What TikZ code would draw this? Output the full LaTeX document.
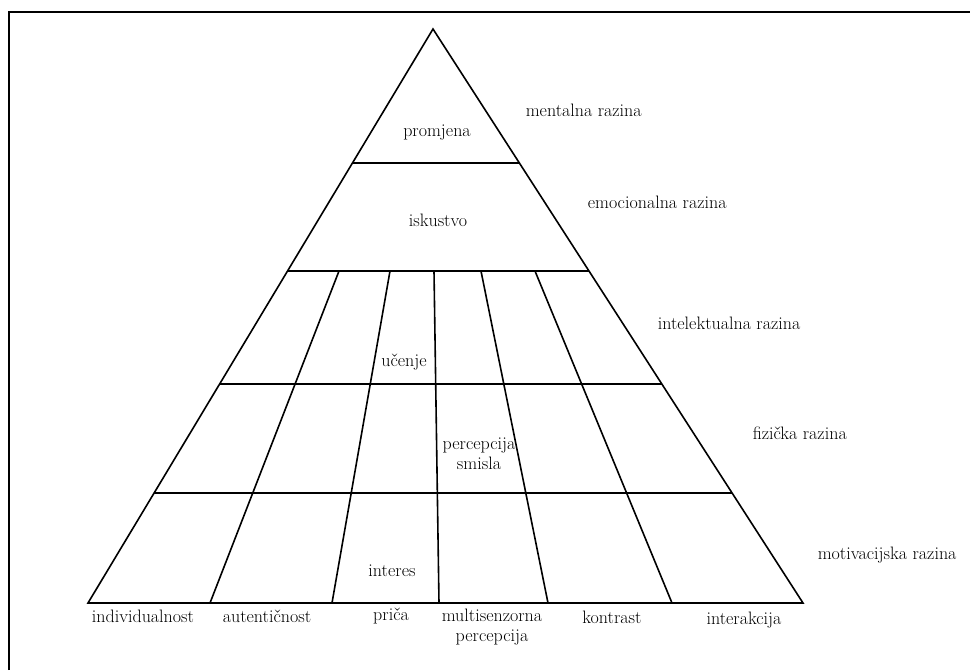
\documentclass[tikz,border=0pt]{standalone}
\usepackage{tikz}
\usetikzlibrary{calc}

\begin{document}
\begin{tikzpicture}[x=1pt, y=-1pt,
    line width=1.6pt,
    word/.style={font=\fontsize{18}{20}\selectfont, inner sep=0pt, align=center},
    level/.style={font=\fontsize{18}{20}\selectfont, inner sep=0pt, anchor=west}]
    \useasboundingbox (0,0) rectangle (970,670);
    \draw[line width=2pt] (9,670) -- (9,12) -- (970,12);

    \coordinate (apex) at (433,29);
    \coordinate (bl) at (88,603);
    \coordinate (br) at (803,603);
    \draw (bl) -- (apex) -- (br) -- cycle;
    \foreach \y in {163,271,384,493}
        \draw ($(apex)!{(\y-29)/574}!(bl)$) -- ($(apex)!{(\y-29)/574}!(br)$);
    \foreach \t/\b in {339/210, 390/332, 434/439, 481/548, 535/672}
        \draw (\t,271) -- (\b,603);

    \node[word] (promjena) at (437,133) {promjena};
    \node[word] (iskustvo) at (438,220) {iskustvo};
    \node[word] (ucenje) at (404,362) {učenje};
    \node[word] (smisao) at (479,454) {percepcija\\smisla};
    \node[word] (interes) at (392,571) {interes};

    \node[word] (indiv) at (143,616) {individualnost};
    \node[word] (autent) at (267,616) {autentičnost};
    \node[word] (prica) at (391,616) {priča};
    \node[word, anchor=north] (multi) at (492,608) {multisenzorna\\percepcija};
    \node[word] (kontrast) at (612,617) {kontrast};
    \node[word] (interakcija) at (744,620) {interakcija};

    \node[level] (mentalna) at (525,110) {mentalna razina};
    \node[level] (emocionalna) at (587,202) {emocionalna razina};
    \node[level] (intelektualna) at (657,323) {intelektualna razina};
    \node[level] (fizicka) at (752,433) {fizička razina};
    \node[level] (motivacijska) at (817,555) {motivacijska razina};
\end{tikzpicture}
\end{document}
